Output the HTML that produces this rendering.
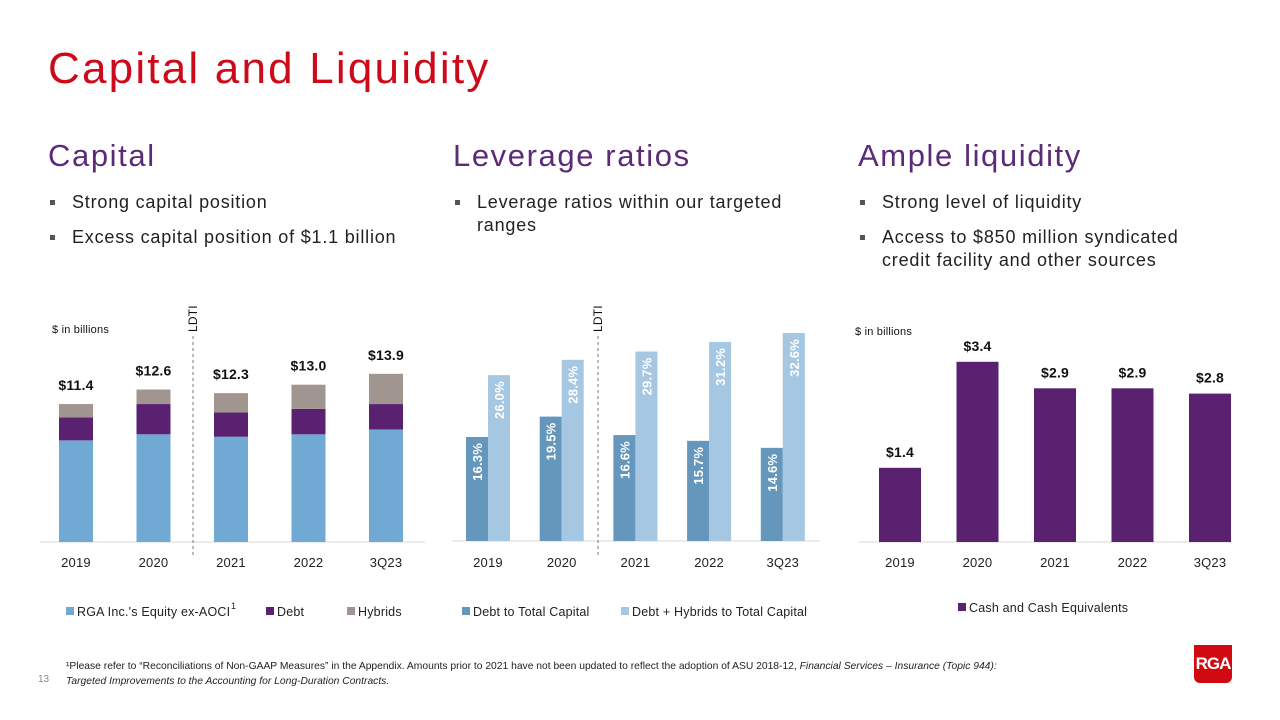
<!DOCTYPE html>
<html><head><meta charset="utf-8">
<style>
body{margin:0;width:1280px;height:720px;background:#fff;font-family:"Liberation Sans",sans-serif;overflow:hidden;position:relative}
.abs{position:absolute}
h1{position:absolute;left:48px;top:44px;margin:0;font-weight:normal;font-size:44px;letter-spacing:2.2px;color:#cc0a1a}
h2{position:absolute;margin:0;font-weight:normal;font-size:31px;letter-spacing:1.6px;color:#5b2a78;top:138px}
ul{position:absolute;margin:0;padding:0;list-style:none;font-size:18px;letter-spacing:0.8px;color:#222;top:191px}
li{position:relative;padding-left:24px;margin-bottom:12px;line-height:23px}
li:before{content:"";position:absolute;left:2px;top:9px;width:5px;height:5px;background:#555}
svg{position:absolute;left:0;top:0}
svg text{letter-spacing:0.2px}
</style></head><body>
<h1>Capital and Liquidity</h1>
<h2 style="left:48px">Capital</h2>
<h2 style="left:453px">Leverage ratios</h2>
<h2 style="left:858px">Ample liquidity</h2>
<ul style="left:48px;width:380px"><li>Strong capital position</li><li>Excess capital position of $1.1 billion</li></ul>
<ul style="left:453px;width:365px"><li>Leverage ratios within our targeted ranges</li></ul>
<ul style="left:858px;width:355px"><li>Strong level of liquidity</li><li>Access to $850 million syndicated credit facility and other sources</li></ul>
<svg id="chart" width="1280" height="720"></svg>
<div class="abs" style="left:66px;top:659px;font-size:10.3px;color:#222;line-height:15px;white-space:nowrap">¹Please refer to “Reconciliations of Non-GAAP Measures” in the Appendix. Amounts prior to 2021 have not been updated to reflect the adoption of ASU 2018-12, <i>Financial Services – Insurance (Topic 944):</i><br><i>Targeted Improvements to the Accounting for Long-Duration Contracts.</i></div>
<div class="abs" style="left:38px;top:674px;font-size:10px;color:#888">13</div>
<div class="abs" style="left:1194px;top:645px;width:38px;height:38px;background:#d10a11;border-radius:0 0 6px 6px;color:#fff;font-weight:bold;font-size:17px;line-height:38px;text-align:center;letter-spacing:-1px">RGA</div>
<script>
const cats=["2019","2020","2021","2022","3Q23"];
const equity=[8.4,8.9,8.7,8.9,9.3];
const debt=[1.9,2.5,2.0,2.1,2.1];
const hybrids=[1.1,1.2,1.6,2.0,2.5];
const totals=["$11.4","$12.6","$12.3","$13.0","$13.9"];
const debtRatio=[16.3,19.5,16.6,15.7,14.6];
const hybRatio=[26.0,28.4,29.7,31.2,32.6];
const cash=[1.4,3.4,2.9,2.9,2.8];
const cashLabels=["$1.4","$3.4","$2.9","$2.9","$2.8"];
const NS="http://www.w3.org/2000/svg";
const svg=document.getElementById('chart');
function mk(t,a,txt){const e=document.createElementNS(NS,t);for(const k in a)e.setAttribute(k,a[k]);if(txt!==undefined)e.textContent=txt;svg.appendChild(e);return e;}
const base=542;
// capital
const cx=i=>76+i*77.5, cy=v=>base-v*12.1;
let e=mk('line',{x1:40,x2:425,y1:base,y2:base,stroke:'#d9d9d9','stroke-width':1});

cats.forEach((c,i)=>{
 let y0=0;
 [[equity,'#70aad4','equity'],[debt,'#5a2170','debt'],[hybrids,'#a0958f','hybrids']].forEach(([arr,col,n])=>{
  const r=mk('rect',{x:cx(i)-17,y:cy(y0+arr[i]),width:34,height:arr[i]*12.1,fill:col});
  
  y0+=arr[i];
 });
 const t=mk('text',{x:cx(i),y:cy(y0)-14,'text-anchor':'middle','font-size':14,'font-weight':'bold',fill:'#111'},totals[i]);
 
 const l=mk('text',{x:cx(i),y:567,'text-anchor':'middle','font-size':13,fill:'#222'},c);
 
});
// leverage
const lx=i=>488+i*73.7, ly=v=>541-v*6.38;
e=mk('line',{x1:452,x2:820,y1:541,y2:541,stroke:'#d9d9d9'});

cats.forEach((c,i)=>{
 [[debtRatio,'#6596bb',-22,'debt-ratio'],[hybRatio,'#a5c7e2',0,'hybrid-ratio']].forEach(([arr,col,off,n])=>{
  const r=mk('rect',{x:lx(i)+off,y:ly(arr[i]),width:22,height:541-ly(arr[i]),fill:col});
  
  const tx=lx(i)+off+11+5, ty=ly(arr[i])+6;
  const t=mk('text',{x:tx,y:ty,'text-anchor':'end','font-size':13,'font-weight':'bold',fill:'#fff',transform:`rotate(-90 ${tx} ${ty})`},arr[i].toFixed(1)+'%');
  
 });
 const l=mk('text',{x:lx(i),y:567,'text-anchor':'middle','font-size':13,fill:'#222'},c);
 
});
// liquidity
const qx=i=>900+i*77.5, qy=v=>base-v*53;
e=mk('line',{x1:858,x2:1232,y1:base,y2:base,stroke:'#d9d9d9'});

cats.forEach((c,i)=>{
 const r=mk('rect',{x:qx(i)-21,y:qy(cash[i]),width:42,height:cash[i]*53,fill:'#5a2170'});
 
 const t=mk('text',{x:qx(i),y:qy(cash[i])-11,'text-anchor':'middle','font-size':14,'font-weight':'bold',fill:'#111'},cashLabels[i]);
 
 const l=mk('text',{x:qx(i),y:567,'text-anchor':'middle','font-size':13,fill:'#222'},c);
 
});
// LDTI lines
[[193,'capital'],[598,'leverage']].forEach(([x,n])=>{
 const d=mk('line',{x1:x,x2:x,y1:336,y2:558,stroke:'#777','stroke-dasharray':'3,3'});
 
 const t=mk('text',{x:x+4,y:332,'font-size':12,fill:'#111',transform:`rotate(-90 ${x+4} 332)`},'LDTI');
 
});
// unit labels
e=mk('text',{x:52,y:333,'font-size':11,fill:'#111'},'$ in billions');

e=mk('text',{x:855,y:335,'font-size':11,fill:'#111'},'$ in billions');

// legends
const legs=[[66,'#70aad4',"RGA Inc.'s Equity ex-AOCI"],[266,'#5a2170','Debt'],[347,'#a0958f','Hybrids'],[462,'#6596bb','Debt to Total Capital'],[621,'#a5c7e2','Debt + Hybrids to Total Capital'],[958,'#5a2170','Cash and Cash Equivalents']];
legs.forEach(([x,col,txt])=>{
 const y=txt.startsWith('Cash')?612:616;
 const r=mk('rect',{x:x,y:y-9,width:8,height:8,fill:col});
 
 const t=mk('text',{x:x+11,y:y,'font-size':12.5,fill:'#222'},txt);
 
});
e=mk('text',{x:231,y:609,'font-size':9,fill:'#222'},'1');

</script>
</body></html>
